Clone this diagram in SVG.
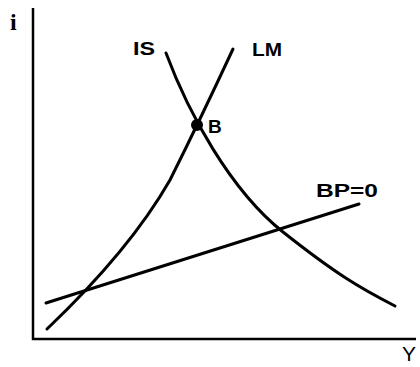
<svg xmlns="http://www.w3.org/2000/svg" width="420" height="367" viewBox="0 0 420 367">
<style>
.ln{fill:none;stroke:#000;stroke-width:3;stroke-linecap:round}
.ax{fill:none;stroke:#000;stroke-width:2.5}
.lb{font-family:"Liberation Sans",Arial,sans-serif;font-weight:bold;font-size:19px;fill:#000}
</style>
<rect width="420" height="367" fill="#fff"/>
<g id="axes">
<path class="ax" d="M33,8 V339 H416"/>
<text x="10" y="30" style="font-family:'Liberation Serif',serif;font-weight:bold;font-size:24px">i</text>
<text x="402" y="361" style="font-family:'Liberation Sans',sans-serif;font-size:21px">Y</text>
</g>
<g id="connectors">
<path id="IS" class="ln" d="M166,53 C188,112 230,190 283,232 S360,288 395,306"/>
<path id="LM" class="ln" d="M233,49 Q200,120 170,180 Q130,250 47,329"/>
<path id="BP" class="ln" d="M46,303 L359,204"/>
</g>
<g id="B">
<circle cx="197" cy="125" r="6"/>
<text class="lb" x="208" y="133">B</text>
</g>
<g id="labels">
<text class="lb" x="133" y="55" textLength="22" lengthAdjust="spacingAndGlyphs">IS</text>
<text class="lb" x="252" y="56" textLength="30" lengthAdjust="spacingAndGlyphs">LM</text>
<text class="lb" x="316" y="197" textLength="62" lengthAdjust="spacingAndGlyphs">BP=0</text>
</g>
</svg>
